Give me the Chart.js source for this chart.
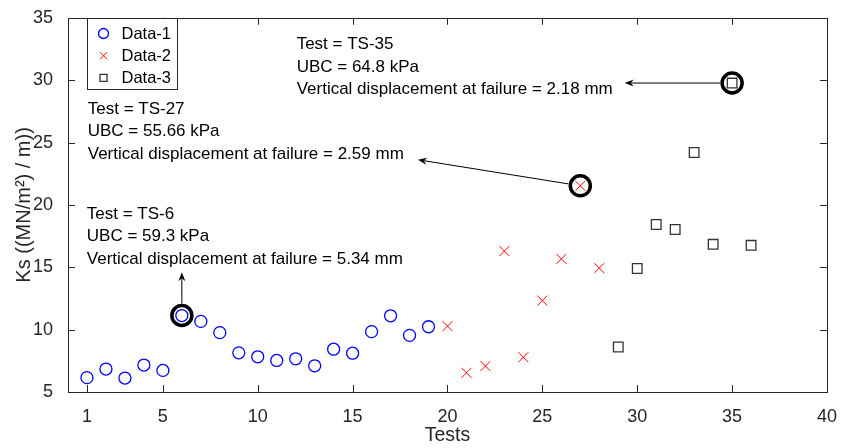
<!DOCTYPE html>
<html>
<head>
<meta charset="utf-8">
<script src="https://cdn.jsdelivr.net/npm/chart.js@4.4.0/dist/chart.umd.min.js"></script>
<style>
	html, body { margin: 0; padding: 0; background: #fff; }
</style>
</head>
<body>
<canvas id="ksChart" width="843" height="448"></canvas>
<script>
	'use strict';

	// Values
	var data1X = [ 1, 2, 3, 4, 5, 6, 7, 8, 9, 10, 11, 12, 13, 14, 15, 16, 17, 18, 19 ];
	var data1Y = [ 6.15, 6.84, 6.12, 7.16, 6.73, 11.13, 10.66, 9.76, 8.14, 7.82, 7.53, 7.66, 7.1, 8.43, 8.11, 9.84, 11.11, 9.54, 10.23 ];
	var data2X = [ 20, 21, 22, 23, 24, 25, 26, 27, 28 ];
	var data2Y = [ 10.28, 6.54, 7.08, 16.3, 7.79, 12.33, 15.67, 21.53, 14.93 ];
	var data3X = [ 29, 30, 31, 32, 33, 34, 35, 36 ];
	var data3Y = [ 8.61, 14.9, 18.43, 18.03, 24.2, 16.84, 29.77, 16.76 ];

	var xTickValues = [ 1, 5, 10, 15, 20, 25, 30, 35, 40 ];
	var yTickValues = [ 5, 10, 15, 20, 25, 30, 35 ];

	// Highlighted tests and their notes
	var notes = [
		{ dataset: 0, index: 5, lines: [ 'Test = TS-6', 'UBC = 59.3 kPa', 'Vertical displacement at failure = 5.34 mm' ], textAt: [ 0.99, 19.25 ], arrowTo: [ 6, 14.6 ] },
		{ dataset: 1, index: 7, lines: [ 'Test = TS-27', 'UBC = 55.66 kPa', 'Vertical displacement at failure = 2.59 mm' ], textAt: [ 1.04, 27.68 ], arrowTo: [ 18.44, 23.62 ] },
		{ dataset: 2, index: 6, lines: [ 'Test = TS-35', 'UBC = 64.8 kPa', 'Vertical displacement at failure = 2.18 mm' ], textAt: [ 12.05, 32.85 ], arrowTo: [ 29.34, 29.77 ] }
	];

	var FONT = "'Liberation Sans', Arial, sans-serif";
	var AXIS_COLOR = '#262626';

	function toPoints( xs, ys ) {
		return xs.map( function( x, i ) {
			return { x: x, y: ys[ i ] };
		} );
	}

	function drawArrow( ctx, x0, y0, x1, y1 ) {
		var ang = Math.atan2( y1 - y0, x1 - x0 );
		var len = 9, half = 3.5, notch = 6;
		ctx.beginPath();
		ctx.moveTo( x0, y0 );
		ctx.lineTo( x1 - Math.cos( ang ) * notch, y1 - Math.sin( ang ) * notch );
		ctx.stroke();
		ctx.save();
		ctx.translate( x1, y1 );
		ctx.rotate( ang );
		ctx.beginPath();
		ctx.moveTo( 0, 0 );
		ctx.lineTo( -len, -half );
		ctx.lineTo( -notch, 0 );
		ctx.lineTo( -len, half );
		ctx.closePath();
		ctx.fill();
		ctx.restore();
	}

	// Box and inward ticks
	var matlabAxes = {
		id: 'matlabAxes',
		afterDraw: function( chart ) {
			var ctx = chart.ctx;
			var area = chart.chartArea;
			var xs = chart.scales.x, ys = chart.scales.y;
			ctx.save();
			ctx.strokeStyle = AXIS_COLOR;
			ctx.lineWidth = 1;
			ctx.strokeRect( Math.round( area.left ) + 0.5, Math.round( area.top ) + 0.5,
				Math.round( area.right - area.left ), Math.round( area.bottom - area.top ) );
			ctx.beginPath();
			xTickValues.forEach( function( v ) {
				var px = Math.round( xs.getPixelForValue( v ) ) + 0.5;
				ctx.moveTo( px, area.bottom );
				ctx.lineTo( px, area.bottom - 7 );
				ctx.moveTo( px, area.top );
				ctx.lineTo( px, area.top + 7 );
			} );
			yTickValues.forEach( function( v ) {
				var py = Math.round( ys.getPixelForValue( v ) ) + 0.5;
				ctx.moveTo( area.left, py );
				ctx.lineTo( area.left + 7, py );
				ctx.moveTo( area.right, py );
				ctx.lineTo( area.right - 7, py );
			} );
			ctx.stroke();
			ctx.restore();
		}
	};

	// Rings, arrows and text boxes
	var callouts = {
		id: 'callouts',
		afterDatasetsDraw: function( chart ) {
			var ctx = chart.ctx;
			var xs = chart.scales.x, ys = chart.scales.y;
			ctx.save();
			notes.forEach( function( n ) {
				var pt = chart.data.datasets[ n.dataset ].data[ n.index ];
				var px = xs.getPixelForValue( pt.x ), py = ys.getPixelForValue( pt.y );

				ctx.strokeStyle = '#000';
				ctx.lineWidth = 3.5;
				ctx.beginPath();
				ctx.arc( px, py, 10, 0, Math.PI * 2 );
				ctx.stroke();

				var tx = xs.getPixelForValue( n.arrowTo[ 0 ] ), ty = ys.getPixelForValue( n.arrowTo[ 1 ] );
				var d = Math.hypot( tx - px, ty - py );
				var sx = px + ( tx - px ) / d * 12, sy = py + ( ty - py ) / d * 12;
				ctx.lineWidth = 1;
				ctx.fillStyle = '#000';
				drawArrow( ctx, sx, sy, tx, ty );

				var lx = xs.getPixelForValue( n.textAt[ 0 ] ), ly = ys.getPixelForValue( n.textAt[ 1 ] );
				ctx.font = '17px ' + FONT;
				ctx.textAlign = 'left';
				ctx.textBaseline = 'middle';
				ctx.fillStyle = '#000';
				n.lines.forEach( function( line, i ) {
					ctx.fillText( line, lx, ly + i * 22.5 );
				} );
			} );
			ctx.restore();
		}
	};

	// Legend box in the upper left corner
	var boxLegend = {
		id: 'boxLegend',
		afterDraw: function( chart ) {
			var ctx = chart.ctx;
			var area = chart.chartArea;
			var left = area.left + 19.5, top = Math.round( area.top ) + 0.5;
			ctx.save();
			ctx.fillStyle = '#fff';
			ctx.fillRect( left, top, 90, 71 );
			ctx.strokeStyle = AXIS_COLOR;
			ctx.lineWidth = 1;
			ctx.strokeRect( left, top, 90, 71 );
			chart.data.datasets.forEach( function( ds, i ) {
				var cy = top + 15 + i * 22.2;
				ctx.strokeStyle = ds.borderColor;
				ctx.fillStyle = 'rgba(0,0,0,0)';
				ctx.lineWidth = ds.borderWidth;
				Chart.helpers.drawPoint( ctx, {
					pointStyle: ds.pointStyle,
					radius: ds.legendRadius,
					borderWidth: ds.borderWidth,
					rotation: 0
				}, left + 16, cy );
				ctx.fillStyle = '#000';
				ctx.font = '16.5px ' + FONT;
				ctx.textAlign = 'left';
				ctx.textBaseline = 'middle';
				ctx.fillText( ds.label, left + 34, cy + 1 );
			} );
			ctx.restore();
		}
	};

	new Chart( document.getElementById( 'ksChart' ), {
		type: 'scatter',
		data: {
			datasets: [
				{
					label: 'Data-1',
					data: toPoints( data1X, data1Y ),
					pointStyle: 'circle',
					pointRadius: 6,
					legendRadius: 5,
					borderColor: '#0000ff',
					backgroundColor: 'rgba(0,0,0,0)',
					borderWidth: 1.3
				},
				{
					label: 'Data-2',
					data: toPoints( data2X, data2Y ),
					pointStyle: 'crossRot',
					pointRadius: 7,
					legendRadius: 5,
					borderColor: '#ff0000',
					backgroundColor: 'rgba(0,0,0,0)',
					borderWidth: 1
				},
				{
					label: 'Data-3',
					data: toPoints( data3X, data3Y ),
					pointStyle: 'rect',
					pointRadius: 6.8,
					legendRadius: 5,
					borderColor: '#333333',
					backgroundColor: 'rgba(0,0,0,0)',
					borderWidth: 1.3
				}
			]
		},
		options: {
			responsive: false,
			animation: false,
			devicePixelRatio: 1,
			layout: { padding: { top: 15, right: 11, left: 0, bottom: 0 } },
			plugins: {
				legend: { display: false },
				tooltip: { enabled: false }
			},
			elements: { point: { hoverRadius: 7 } },
			scales: {
				x: {
					type: 'linear',
					min: 0,
					max: 40,
					grid: { display: false },
					border: { display: false },
					afterBuildTicks: function( scale ) {
						scale.ticks = xTickValues.map( function( v ) { return { value: v }; } );
					},
					afterFit: function( scale ) { scale.height = 56; },
					ticks: {
						color: AXIS_COLOR,
						padding: 6,
						font: { family: FONT, size: 18 },
						maxRotation: 0,
						callback: function( v ) { return v; }
					},
					title: {
						display: true,
						text: 'Tests',
						color: AXIS_COLOR,
						font: { family: FONT, size: 19.5 },
						padding: { top: 0, bottom: 1 }
					}
				},
				y: {
					type: 'linear',
					min: 5,
					max: 35,
					grid: { display: false },
					border: { display: false },
					afterBuildTicks: function( scale ) {
						scale.ticks = yTickValues.map( function( v ) { return { value: v }; } );
					},
					afterFit: function( scale ) { scale.width = 68; },
					ticks: {
						color: AXIS_COLOR,
						padding: 7,
						font: { family: FONT, size: 18 }
					},
					title: {
						display: true,
						text: 'Ks ((MN/m\u00B2) / m))',
						color: AXIS_COLOR,
						font: { family: FONT, size: 20 },
						padding: { top: 12, bottom: 0 }
					}
				}
			}
		},
		plugins: [ matlabAxes, callouts, boxLegend ]
	} );
</script>
</body>
</html>
